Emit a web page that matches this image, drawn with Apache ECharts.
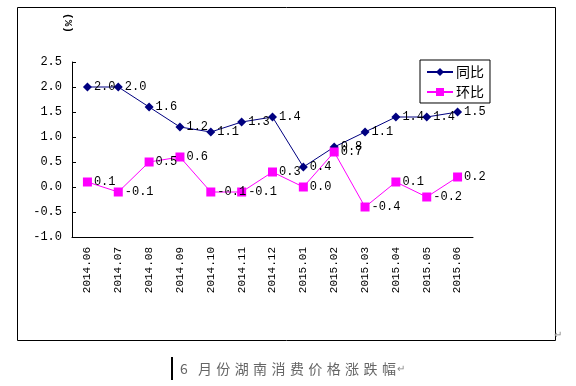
<!DOCTYPE html>
<html><head><meta charset="utf-8">
<script src="https://cdn.jsdelivr.net/npm/echarts@6/dist/echarts.min.js"></script>
<style>html,body{margin:0;padding:0;background:#fff}#c{width:576px;height:386px}</style>
</head><body><div id="c"></div>
<script>
const categories = ['2014.06','2014.07','2014.08','2014.09','2014.10','2014.11','2014.12','2015.01','2015.02','2015.03','2015.04','2015.05','2015.06'];
const yoy = [2.0, 2.0, 1.6, 1.2, 1.1, 1.3, 1.4, 0.4, 0.8, 1.1, 1.4, 1.4, 1.5];
const mom = [0.1, -0.1, 0.5, 0.6, -0.1, -0.1, 0.3, 0.0, 0.7, -0.4, 0.1, -0.2, 0.2];
const seriesNames = ['同比', '环比'];
const caption = '6 月份湖南消费价格涨跌幅';

const mono = '"Liberation Mono", "DejaVu Sans Mono", monospace';
const chart = echarts.init(document.getElementById('c'), null, {renderer: 'canvas'});
const lbl = {show: true, position: 'right', distance: 2, color: '#000', fontFamily: mono, fontSize: 12,
  formatter: p => p.value.toFixed(1)};

const capChars = [];
let cx = 184;
Array.from(caption).forEach((ch, i) => {
  if (ch === ' ') { cx += 2.5; return; }
  capChars.push({type: 'text', x: cx, y: 369,
    style: {text: ch, fontSize: 14, fill: '#666', fontFamily: '"Noto Sans CJK SC"', align: 'center', verticalAlign: 'middle'}});
  cx += 18.4;
});

chart.setOption({
  animation: false,
  backgroundColor: '#fff',
  grid: {left: 72, top: 62, right: 103, bottom: 149},
  legend: {
    orient: 'vertical', left: 420, top: 60, padding: [5, 6, 4, 6],
    borderColor: '#000', borderWidth: 1, borderRadius: 0,
    itemWidth: 26, itemHeight: 10, itemGap: 6,
    textStyle: {fontSize: 14, color: '#000', fontFamily: '"Noto Sans CJK SC"', padding: [0, 0, 0, -2]},
    data: seriesNames
  },
  xAxis: {
    type: 'category', data: categories, boundaryGap: true,
    axisLine: {onZero: false, lineStyle: {color: '#000', width: 1}},
    axisTick: {inside: true, length: 4, lineStyle: {color: '#000'}},
    axisLabel: {rotate: 90, color: '#000', fontFamily: mono, fontSize: 11, margin: 10, interval: 0}
  },
  yAxis: {
    type: 'value', min: -1.0, max: 2.5, interval: 0.5,
    splitLine: {show: false},
    axisLine: {show: true, lineStyle: {color: '#000', width: 1}},
    axisTick: {show: true, inside: true, length: 4, lineStyle: {color: '#000'}},
    axisLabel: {color: '#000', fontFamily: mono, fontSize: 12, margin: 10, formatter: v => v.toFixed(1)}
  },
  series: [
    {name: seriesNames[0], type: 'line', data: yoy, symbol: 'diamond', symbolSize: 9,
      itemStyle: {color: '#000080'}, lineStyle: {color: '#000080', width: 1}, label: lbl},
    {name: seriesNames[1], type: 'line', data: mom, symbol: 'rect', symbolSize: 9,
      itemStyle: {color: '#ff00ff'}, lineStyle: {color: '#ff00ff', width: 1}, label: lbl}
  ],
  graphic: [
    {type: 'rect', left: 15, top: 5, shape: {width: 538, height: 333}, style: {fill: 'none', stroke: '#000', lineWidth: 1}, silent: true, z: -1},
    {type: 'text', x: 68, y: 23, rotation: -Math.PI / 2, style: {text: '(%)', fontSize: 11, fontWeight: 'bold', fill: '#000', align: 'center', verticalAlign: 'middle', fontFamily: mono}},
    {type: 'rect', left: 171, top: 357, shape: {width: 2, height: 23}, style: {fill: '#000'}},
    ...capChars,
    {type: 'text', left: cx - 10, top: 364, style: {text: '↵', fontSize: 10, fill: '#888'}},
    {type: 'text', left: 554, top: 330, style: {text: '↵', fontSize: 10, fill: '#888'}}
  ]
});
</script></body></html>
